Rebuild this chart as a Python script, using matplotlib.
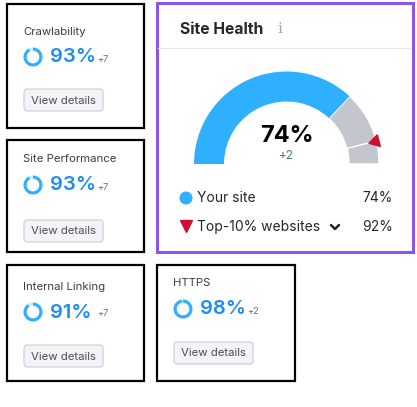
import numpy as np
import matplotlib
matplotlib.use("Agg")
import matplotlib.pyplot as plt
from matplotlib.patches import Rectangle, Wedge, FancyBboxPatch, Circle

plt.rcParams['font.family'] = ['Inter', 'DejaVu Sans']

# datos de las tarjetas
card_names = ["Crawlability", "Site Performance", "Internal Linking", "HTTPS"]
card_values = [93, 93, 91, 98]
card_deltas = [7, 7, 7, 2]

# datos del indicador Site Health
site_value = 74
site_delta = 2
top10_value = 92
legend_labels = ["Your site", "Top-10% websites"]

BLUE = "#2EB0FF"
BLUE_TXT = "#1E8CF2"
GRAY = "#C4C6CE"
RED = "#D0102E"
PURPLE = "#8B55EE"
DARK = "#24272D"
DELTA = "#4F7A7E"

fig = plt.figure(figsize=(4.17, 4.07), dpi=100)
ax = fig.add_axes([0, 0, 1, 1])
ax.set_xlim(0, 417)
ax.set_ylim(407, 0)
ax.set_aspect("equal")
ax.axis("off")

# cajas de las tarjetas (x0, y0, x1, y1) y desplazamientos internos
boxes = [(7, 4, 144, 128), (7, 140, 144, 252), (7, 265, 144, 381), (157, 265, 295, 381)]
title_dy = [28, 19, 22, 18]
ring_dy = [53, 45, 47, 44]
btn_dy = [85, 80, 80, 77]

for i, (x0, y0, x1, y1) in enumerate(boxes):
    ax.add_patch(Rectangle((x0, y0), x1 - x0, y1 - y0, fill=False, ec="black", lw=1.6))
    tx = x0 + 16
    ax.text(tx, y0 + title_dy[i], card_names[i], fontsize=8.2, color="#3a3d44", va="center")
    # anillo de progreso
    cx, cy = x0 + 26, y0 + ring_dy[i]
    frac = card_values[i] / 100
    ax.add_patch(Wedge((cx, cy), 9.5, -90, -90 + 360 * frac, width=3.2, color=BLUE, lw=0))
    ax.add_patch(Wedge((cx, cy), 9.5, -90 + 360 * frac, 270, width=3.2, color="#CDEBFF", lw=0))
    ax.text(x0 + 43, cy + 0.5, f"{card_values[i]}%", fontsize=14.5, fontweight="semibold",
            color=BLUE_TXT, va="center")
    ax.text(x0 + 90.5, cy + 2, f"+{card_deltas[i]}", fontsize=6.6, color=DELTA, va="center")
    # boton
    by = y0 + btn_dy[i]
    ax.add_patch(FancyBboxPatch((tx + 1, by), 79, 22, boxstyle="round,pad=0,rounding_size=3",
                                fc="#F3F4F7", ec="#C9CCD3", lw=0.8))
    ax.text(tx + 40.5, by + 11.5, "View details", fontsize=8.2, color="#4a4e57",
            ha="center", va="center")

# tarjeta Site Health
ax.add_patch(Rectangle((157, 3), 256, 249, fill=False, ec=PURPLE, lw=2.2))
ax.plot([158.5, 411.5], [48, 48], color="#E4E6EC", lw=0.8)
ax.text(180, 29, "Site Health", fontsize=11.3, fontweight="bold", color=DARK, va="center")
ax.text(280, 29, "i", fontsize=11, color="#A3A7B0", va="center", ha="center",
        family="DejaVu Serif")

# indicador semicircular (eje y invertido: angulos 180..360 quedan arriba)
gc = (286.5, 164)
r_out, w = 92.5, 30
a_site = 180 + 180 * site_value / 100
a_top = 180 + 180 * top10_value / 100
ax.add_patch(Wedge(gc, r_out, 180, a_site, width=w, fc=BLUE, lw=0))
ax.add_patch(Wedge(gc, r_out, a_site, a_top, width=w, fc=GRAY, ec="white", lw=0.6))
ax.add_patch(Wedge(gc, r_out, a_top, 360, width=w, fc=GRAY, ec="white", lw=1.0))

# marcador del top-10% apuntando hacia el centro
th = np.radians(a_top)
mx, my = gc[0] + (r_out - 1) * np.cos(th), gc[1] + (r_out - 1) * np.sin(th)
ax.plot(mx, my, marker=(3, 0, 90 + (360 - a_top)), ms=10, color=RED, mec=RED)

ax.text(286.5, 136, f"{site_value}%", fontsize=17, fontweight="bold", color="black",
        ha="center", va="center")
ax.text(286.5, 156, f"+{site_delta}", fontsize=8.5, color=DELTA, ha="center", va="center")

# leyenda
ax.add_patch(Circle((186, 198), 5.8, color=BLUE))
ax.text(197, 198, legend_labels[0], fontsize=10, color=DARK, va="center")
ax.text(393, 198, f"{site_value}%", fontsize=10, color=DARK, va="center", ha="right")
ax.plot(186, 226, marker="v", ms=8, color=RED)
ax.text(197, 227, legend_labels[1], fontsize=10, color=DARK, va="center")
ax.plot([331, 335, 339], [225, 229, 225], color=DARK, lw=1.8, solid_capstyle="round",
        solid_joinstyle="round")
ax.text(393, 227, f"{top10_value}%", fontsize=10, color=DARK, va="center", ha="right")

fig.savefig("out.png", dpi=100, facecolor="white")
